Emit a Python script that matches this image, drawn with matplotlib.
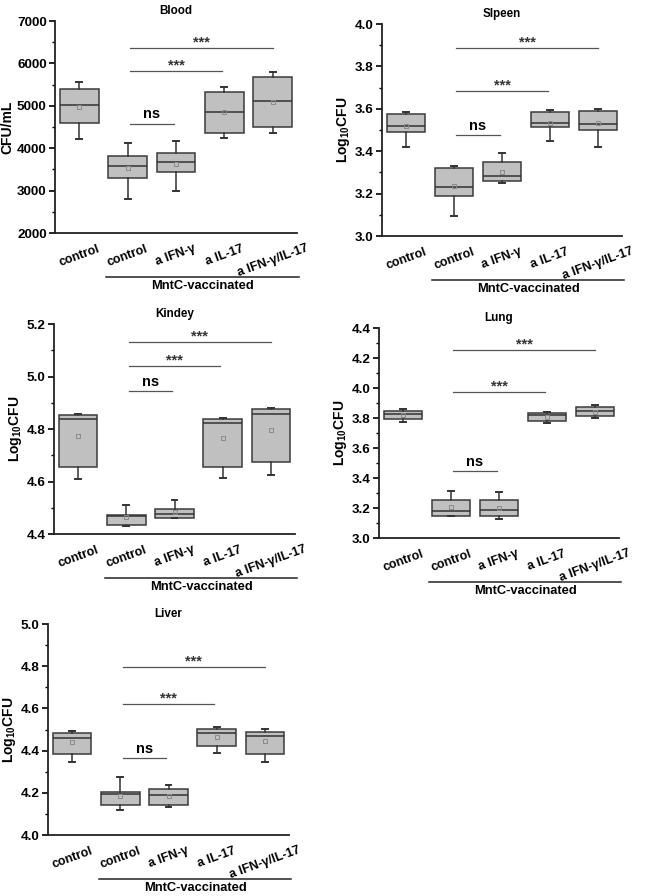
import numpy as np
import matplotlib.pyplot as plt
from matplotlib.ticker import MultipleLocator

plt.rcParams['font.family'] = ['Liberation Sans', 'DejaVu Sans']
plt.rcParams['font.weight'] = 'bold'
plt.rcParams['mathtext.fontset'] = 'custom'
plt.rcParams['mathtext.rm'] = 'Liberation Sans:bold'
plt.rcParams['mathtext.it'] = 'Liberation Sans:bold'
plt.rcParams['mathtext.bf'] = 'Liberation Sans:bold'

# -------------------------
# Data
# each box: whisker low, q1, median, q3, whisker high, mean
# -------------------------
groups = ["control", "control", "a IFN-γ", "a IL-17", "a IFN-γ/IL-17"]
group_label = "MntC-vaccinated"

blood = [
    [4206, 4606, 5014, 5407, 5556, 4975],
    [2808, 3303, 3570, 3805, 4127, 3531],
    [2989, 3444, 3672, 3892, 4159, 3633],
    [4245, 4363, 4849, 5328, 5454, 4849],
    [4363, 4504, 5108, 5673, 5807, 5085],
]
spleen = [
    [3.419, 3.491, 3.517, 3.576, 3.586, 3.521],
    [3.093, 3.187, 3.231, 3.323, 3.331, 3.235],
    [3.252, 3.260, 3.283, 3.348, 3.392, 3.304],
    [3.449, 3.512, 3.534, 3.586, 3.592, 3.535],
    [3.422, 3.501, 3.526, 3.591, 3.600, 3.531],
]
kidney = [
    [4.608, 4.655, 4.837, 4.853, 4.858, 4.775],
    [4.430, 4.434, 4.470, 4.474, 4.510, 4.465],
    [4.460, 4.461, 4.475, 4.494, 4.528, 4.483],
    [4.612, 4.655, 4.822, 4.837, 4.841, 4.767],
    [4.624, 4.674, 4.858, 4.875, 4.881, 4.796],
]
lung = [
    [3.776, 3.791, 3.827, 3.849, 3.862, 3.822],
    [3.144, 3.149, 3.182, 3.256, 3.311, 3.204],
    [3.124, 3.149, 3.184, 3.251, 3.307, 3.200],
    [3.769, 3.780, 3.818, 3.833, 3.842, 3.809],
    [3.798, 3.813, 3.847, 3.871, 3.884, 3.840],
]
liver = [
    [4.348, 4.382, 4.458, 4.482, 4.494, 4.439],
    [4.117, 4.142, 4.193, 4.205, 4.276, 4.185],
    [4.131, 4.142, 4.190, 4.216, 4.237, 4.185],
    [4.390, 4.420, 4.483, 4.502, 4.513, 4.466],
    [4.344, 4.385, 4.468, 4.488, 4.502, 4.444],
]

# significance bars: heights for ns, *** (vs a IL-17), *** (vs a IFN-γ/IL-17)
sig_labels = ["ns", "***", "***"]
blood_sig = [4582, 5823, 6372]
spleen_sig = [3.476, 3.683, 3.885]
kidney_sig = [4.943, 5.040, 5.133]
lung_sig = [3.447, 3.971, 4.253]
liver_sig = [4.365, 4.622, 4.795]

W, H = 660, 896

# (title, stats, sig, ylabel, ylim, major, minor, pixel box l,t,r,b)
panels = [
    ("Blood", blood, blood_sig, "CFU/mL", (2000, 7000), 1000, 500, (55, 21, 297, 233)),
    ("Slpeen", spleen, spleen_sig, r"Log$_{10}$CFU", (3.0, 4.0), 0.2, 0.1, (382, 24, 622, 236)),
    ("Kindey", kidney, kidney_sig, r"Log$_{10}$CFU", (4.4, 5.2), 0.2, 0.1, (54, 324, 295, 534)),
    ("Lung", lung, lung_sig, r"Log$_{10}$CFU", (3.0, 4.4), 0.2, 0.1, (379, 328, 619, 538)),
    ("Liver", liver, liver_sig, r"Log$_{10}$CFU", (4.0, 5.0), 0.2, 0.1, (48, 624, 289, 835)),
]

sig_spans = [(2.05, 2.95), (2.05, 3.95), (2.05, 5.0)]

fig = plt.figure(figsize=(W / 100, H / 100), dpi=100)

for title, stats, sig, ylab, ylim, major, minor, (l, t, r, b) in panels:
    ax = fig.add_axes([l / W, 1 - b / H, (r - l) / W, (b - t) / H])

    bxp_stats = []
    for s in stats:
        bxp_stats.append(dict(whislo=s[0], q1=s[1], med=s[2], q3=s[3],
                              whishi=s[4], mean=s[5], fliers=[]))
    pos = np.arange(1, len(stats) + 1)
    ax.bxp(bxp_stats, positions=pos, widths=0.8, patch_artist=True,
           showmeans=True, showfliers=False, capwidths=0.12,
           boxprops=dict(facecolor='#c0c0c0', edgecolor='#3a3a3a', linewidth=1.1),
           medianprops=dict(color='#333333', linewidth=1.1),
           whiskerprops=dict(color='#333333', linewidth=1.1),
           capprops=dict(color='#333333', linewidth=1.4),
           meanprops=dict(marker='s', markersize=2.6, markerfacecolor='none',
                          markeredgecolor='#8a8a8a', markeredgewidth=0.7))

    ax.set_xlim(0.5, 5.5)
    ax.set_ylim(*ylim)
    ax.yaxis.set_major_locator(MultipleLocator(major))
    ax.yaxis.set_minor_locator(MultipleLocator(minor))
    if major < 1:
        ax.yaxis.set_major_formatter(lambda v, p: f"{v:.1f}")

    for side in ['top', 'right']:
        ax.spines[side].set_visible(False)
    for side in ['left', 'bottom']:
        ax.spines[side].set_linewidth(1.3)
        ax.spines[side].set_color('#222222')

    ax.tick_params(axis='y', which='major', direction='out', length=4, width=1.2,
                   labelsize=9.7, pad=2)
    ax.tick_params(axis='y', which='minor', direction='out', length=2.5, width=1.0)
    ax.set_xticks(pos)
    ax.set_xticklabels(groups, rotation=20, fontsize=9, fontweight='bold')
    ax.tick_params(axis='x', length=0, pad=7)

    ax.set_ylabel(ylab, fontsize=10, fontweight='bold', labelpad=2)
    ax.set_title(title, fontsize=8.4, fontweight='bold', pad=5)

    # significance bars
    for (x1, x2), y, lab in zip(sig_spans, sig, sig_labels):
        ax.plot([x1, x2], [y, y], color='#555555', linewidth=0.9)
        if lab == "ns":
            ax.annotate(lab, ((x1 + x2) / 2, y), xytext=(0, 1.5),
                        textcoords='offset points', ha='center', va='bottom',
                        fontsize=10.5, fontweight='bold')
        else:
            ax.annotate(lab, ((x1 + x2) / 2, y), xytext=(0, -1),
                        textcoords='offset points', ha='center', va='bottom',
                        fontsize=10.5, fontweight='bold', color='#333333')

    # group bracket under the vaccinated groups
    trans = ax.get_xaxis_transform()
    hpx = b - t
    ax.plot([1.55, 5.55], [-44 / hpx, -44 / hpx], transform=trans,
            color='#222222', linewidth=1.1, clip_on=False)
    ax.text(3.55, -53 / hpx, group_label, transform=trans, ha='center',
            va='center', fontsize=9.3, fontweight='bold')

fig.savefig("out.png", dpi=100)
